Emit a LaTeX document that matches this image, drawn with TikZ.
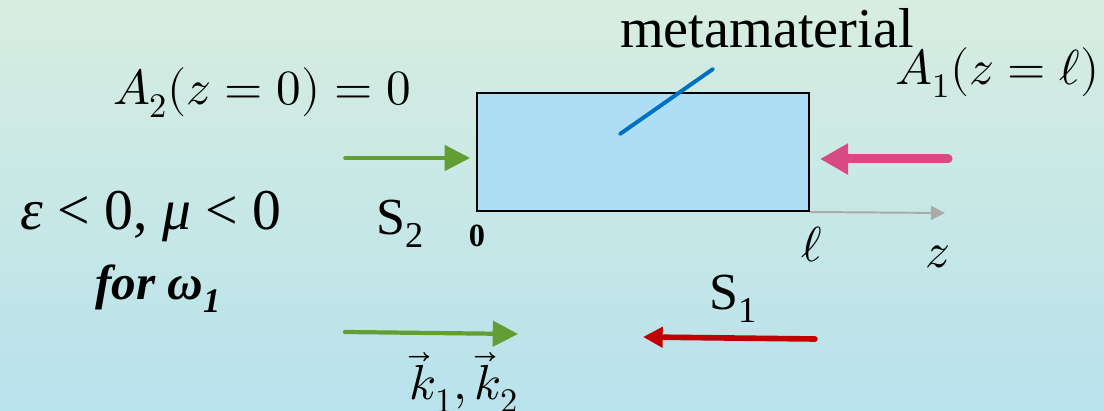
\documentclass[tikz,border=0pt]{standalone}
\usepackage{fontspec}
\usepackage{unicode-math}
\setmainfont{Liberation Serif}
\setmathfont{Latin Modern Math}
\usetikzlibrary{arrows.meta,positioning}
\definecolor{BgTop}{RGB}{215,237,224}
\definecolor{BgBottom}{RGB}{184,226,236}
\definecolor{SlabBlue}{RGB}{173,222,245}
\definecolor{PointerBlue}{RGB}{0,112,192}
\definecolor{WaveGreen}{RGB}{98,158,52}
\definecolor{WavePink}{RGB}{215,74,132}
\definecolor{WaveRed}{RGB}{192,0,0}
\definecolor{AxisGray}{RGB}{170,170,170}
\newcommand{\pxfont}[1]{\fontsize{#1}{#1}\selectfont}

\begin{document}
\begin{tikzpicture}[x=0.025cm,y=0.025cm,
        lbl/.style={inner sep=0pt,anchor=base,text=black},
        slab/.style={draw=black,fill=SlabBlue,line width=1.4pt,
                     minimum width=8.3cm,minimum height=2.95cm,inner sep=0pt},
        greenarrow/.style={WaveGreen,line width=2.5pt,line cap=round,
                     -{Triangle[length=18pt,width=18pt]}},
        pinkarrow/.style={WavePink,line width=6.4pt,line cap=round,
                     -{Triangle[length=20pt,width=21pt]}},
        redarrow/.style={WaveRed,line width=4pt,line cap=round,
                     -{Triangle[length=14pt,width=14pt]}},
        axis/.style={AxisGray,line width=1.4pt,-{Triangle[length=10pt,width=10pt]}}]
      % background
      \shade[top color=BgTop,bottom color=BgBottom] (0,0) rectangle (1104,-411);
      \useasboundingbox (0,0) rectangle (1104,-411);
      % metamaterial slab
      \node[slab] (slab) at (643,-152) {};
      \coordinate (zend) at (945,-213);
      \draw[axis] (slab.south east) -- (zend);
      \node[lbl] (meta) at (767,-48) {\pxfont{40}metamaterial};
      \coordinate (ptrlow) at (620,-134);
      \coordinate (ptrhigh) at (713,-69);
      \draw[PointerBlue,line width=2.8pt,line cap=round] (ptrlow) -- (ptrhigh);
      % boundary conditions
      \node[lbl] (a2) at (262,-105) {\pxfont{35}$A_2(z=0)=0$};
      \node[lbl] (a1) at (998,-85) {\pxfont{35}$A_1(z=\ell)$};
      \coordinate (s2tail) at (345,-158);
      \coordinate (s2tip) at (470,-158);
      \draw[greenarrow] (s2tail) -- (s2tip);
      \coordinate (a1tail) at (948,-159);
      \coordinate (a1tip) at (820,-159);
      \draw[pinkarrow] (a1tail) -- (a1tip);
      % material and axis labels
      \node[lbl] (epsmu) at (151,-230) {\pxfont{41}\textit{ε} < 0, \textit{μ} < 0};
      \node[lbl] (s2) at (400,-235) {\pxfont{37}S\textsubscript{2}};
      \node[lbl] (zero) at (477,-247) {\pxfont{23}\textbf{0}};
      \node[lbl] (ell) at (812,-262) {\pxfont{35}$\ell$};
      \node[lbl] (zlbl) at (938,-268) {\pxfont{35}$z$};
      \node[lbl] (for) at (158,-300) {\pxfont{35}\textbf{\textit{for ω\textsubscript{1}}}};
      \node[lbl] (s1) at (733,-310) {\pxfont{37}S\textsubscript{1}};
      % wave vectors
      \coordinate (ktail) at (345,-332);
      \coordinate (khead) at (518,-334);
      \draw[greenarrow,line width=3pt] (ktail) -- (khead);
      \coordinate (s1tail) at (815,-339);
      \coordinate (s1tip) at (643,-337);
      \draw[redarrow] (s1tail) -- (s1tip);
      \node[lbl] (kvec) at (464,-400) {\pxfont{35}$\vec{k}_1, \vec{k}_2$};
      \end{tikzpicture}
\end{document}
